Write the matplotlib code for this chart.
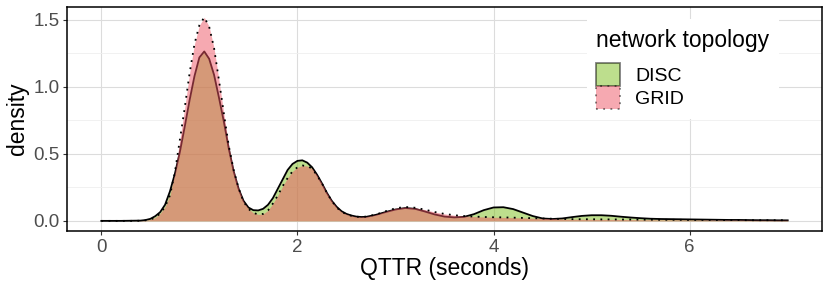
import numpy as np
import matplotlib.pyplot as plt
from matplotlib.patches import Patch

# density readings (QTTR in seconds)
qttr = [0.0, 0.1, 0.2, 0.3, 0.4, 0.45, 0.5, 0.55, 0.6, 0.65, 0.7, 0.75, 0.8, 0.85,
        0.9, 0.95, 1.0, 1.05, 1.1, 1.15, 1.2, 1.25, 1.3, 1.35, 1.4, 1.45, 1.5, 1.55,
        1.6, 1.65, 1.7, 1.75, 1.8, 1.85, 1.9, 1.95, 2.0, 2.05, 2.1, 2.15, 2.2, 2.25,
        2.3, 2.35, 2.4, 2.45, 2.5, 2.55, 2.6, 2.65, 2.7, 2.8, 2.9, 3.0, 3.1, 3.2,
        3.3, 3.4, 3.5, 3.6, 3.7, 3.8, 3.9, 4.0, 4.1, 4.2, 4.3, 4.4, 4.5, 4.6, 4.7,
        4.8, 4.9, 5.0, 5.1, 5.2, 5.3, 5.4, 5.5, 5.6, 5.7, 5.8, 5.9, 6.0, 6.1, 6.2,
        6.3, 6.4, 6.5, 6.6, 6.7, 6.8, 6.9, 7.0]

disc = [0.0, 0.0, 0.0, 0.001, 0.002, 0.006, 0.015, 0.035, 0.065, 0.12, 0.22, 0.35,
        0.51, 0.70, 0.90, 1.08, 1.22, 1.265, 1.21, 1.09, 0.92, 0.74, 0.54, 0.37,
        0.24, 0.15, 0.10, 0.08, 0.078, 0.09, 0.12, 0.17, 0.24, 0.31, 0.38, 0.425,
        0.448, 0.452, 0.435, 0.40, 0.345, 0.28, 0.21, 0.15, 0.105, 0.072, 0.052,
        0.04, 0.032, 0.029, 0.03, 0.045, 0.066, 0.085, 0.096, 0.09, 0.07, 0.048,
        0.032, 0.026, 0.03, 0.05, 0.08, 0.10, 0.102, 0.088, 0.062, 0.036, 0.018,
        0.014, 0.018, 0.028, 0.037, 0.042, 0.042, 0.038, 0.031, 0.025, 0.02, 0.016,
        0.014, 0.013, 0.012, 0.011, 0.01, 0.009, 0.008, 0.007, 0.007, 0.006, 0.005,
        0.005, 0.004, 0.004]

grid = [0.0, 0.0, 0.0, 0.0, 0.001, 0.004, 0.01, 0.025, 0.055, 0.105, 0.19, 0.36,
        0.60, 0.84, 1.10, 1.32, 1.46, 1.52, 1.45, 1.29, 1.05, 0.80, 0.56, 0.38,
        0.245, 0.145, 0.09, 0.06, 0.048, 0.052, 0.078, 0.13, 0.19, 0.26, 0.32, 0.37,
        0.40, 0.413, 0.41, 0.39, 0.34, 0.28, 0.21, 0.15, 0.10, 0.068, 0.05, 0.038,
        0.031, 0.029, 0.032, 0.047, 0.072, 0.094, 0.104, 0.098, 0.084, 0.066, 0.052,
        0.042, 0.036, 0.032, 0.029, 0.027, 0.026, 0.024, 0.022, 0.02, 0.018, 0.016,
        0.014, 0.013, 0.012, 0.012, 0.011, 0.011, 0.01, 0.01, 0.009, 0.009, 0.008,
        0.008, 0.008, 0.007, 0.007, 0.007, 0.006, 0.006, 0.006, 0.005, 0.005, 0.005,
        0.005, 0.005]

topologies = ["DISC", "GRID"]
fills = [(125/255, 190/255, 28/255), (238/255, 85/255, 100/255)]

plt.rcParams['font.family'] = ['Liberation Sans', 'DejaVu Sans']

fig = plt.figure(figsize=(8.3, 2.91), dpi=100)
ax = fig.add_axes([0.0807, 0.206, 0.9097, 0.770])

ax.fill_between(qttr, disc, color=fills[0], alpha=0.5, lw=0, zorder=2)
ax.plot(qttr, disc, color="black", lw=1.3, zorder=3)
ax.fill_between(qttr, grid, color=fills[1], alpha=0.5, lw=0, zorder=4)
ax.plot(qttr, grid, color="black", lw=1.3, ls=(0, (1, 3)), zorder=5)

ax.set_xlim(-0.35, 7.35)
ax.set_ylim(-0.076, 1.597)
ax.set_xticks([0, 2, 4, 6])
ax.set_yticks([0.0, 0.5, 1.0, 1.5])
ax.set_yticklabels(["0.0", "0.5", "1.0", "1.5"])
ax.set_yticks([0.25, 0.75, 1.25], minor=True)

ax.grid(which="major", color="#DCDCDC", lw=0.8, zorder=0)
ax.grid(which="minor", axis="y", color="#EFEFEF", lw=0.6, zorder=0)
ax.set_axisbelow(True)
for s in ax.spines.values():
    s.set_color("black")
    s.set_linewidth(1.1)
ax.tick_params(which="major", length=3, width=0.8, color="#333333",
               labelcolor="#4D4D4D", labelsize=13.5, pad=2.5)
ax.tick_params(which="minor", length=0)

ax.set_xlabel("QTTR (seconds)", fontsize=16.5, labelpad=1)
ax.set_ylabel("density", fontsize=16.5, labelpad=3)

handles = [Patch(facecolor=fills[0], alpha=0.5, edgecolor="black", lw=1.3),
           Patch(facecolor=fills[1], alpha=0.5, edgecolor="black", lw=1.3, ls=(0, (1, 3)))]
leg = ax.legend(handles, topologies, title="network topology", loc="upper right",
                bbox_to_anchor=(0.956, 0.99), fontsize=14, title_fontsize=16.5,
                frameon=True, facecolor="white", edgecolor="none", framealpha=1,
                fancybox=False, handlelength=1.2, handleheight=1.45,
                labelspacing=0.0, handletextpad=0.8, borderpad=0.5)
leg._legend_box.align = "left"
leg._legend_box.sep = 8
leg.set_zorder(10)

fig.savefig("out.png", dpi=100)
